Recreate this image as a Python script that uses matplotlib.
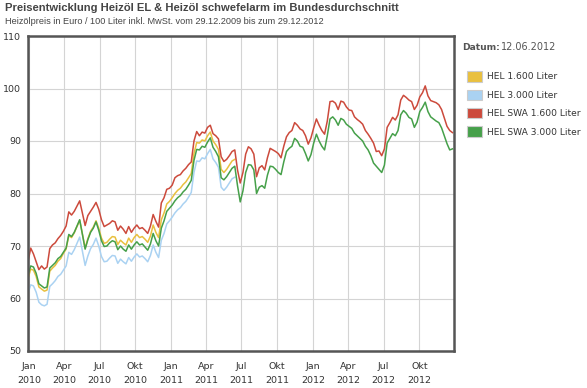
import numpy as np
import pandas as pd
import matplotlib
matplotlib.use("Agg")
import matplotlib.pyplot as plt
import matplotlib.dates as mdates
from matplotlib.patches import Patch

# weekly prices, Euro / 100 Liter
dates = pd.date_range("2009-12-29", "2012-12-29", freq="7D")

hel_swa_1600 = [
    67.0, 69.6, 68.5, 67.0, 65.5, 66.2, 65.6, 66.0, 69.5, 70.2,
    70.6, 71.4, 72.0, 72.8, 73.8, 76.5, 75.9, 76.6, 77.6, 78.6,
    76.2, 73.9, 75.8, 76.6, 77.4, 78.3, 77.0, 75.0, 73.7, 74.0,
    74.3, 74.8, 74.6, 73.0, 73.8, 73.2, 72.4, 73.7, 72.6, 73.4,
    74.0, 73.3, 73.5, 73.0, 72.4, 73.8, 76.0, 74.7, 73.6, 78.2,
    79.2, 80.8, 81.0, 81.6, 83.0, 83.4, 83.6, 84.3, 84.8, 85.5,
    86.0, 90.0, 91.8, 91.0, 91.7, 91.5, 92.6, 93.0, 91.4, 91.0,
    90.4, 87.0, 86.1, 86.5, 87.2, 88.0, 88.3, 84.5, 82.0, 84.0,
    87.5, 88.9, 88.5, 87.5, 83.2, 84.9, 85.3, 84.5, 86.8, 88.6,
    88.3, 88.0, 87.6, 86.8, 89.0, 90.8, 91.6, 92.0, 93.5, 93.0,
    92.3, 92.0, 91.0, 89.4, 90.6, 92.5, 94.2, 93.0, 92.0, 91.3,
    93.8, 97.5, 97.6, 97.2, 96.0, 97.6, 97.4, 96.5, 95.9, 95.8,
    94.6, 94.1, 93.7, 93.2, 92.0, 91.3, 90.5, 89.6, 88.0, 88.1,
    87.2, 88.5, 92.6, 93.5, 94.5, 94.0, 95.0, 97.8, 98.7, 98.3,
    97.8, 97.5, 96.0, 96.8, 98.4, 99.2, 100.5, 98.6, 97.7, 97.5,
    97.3, 96.9, 96.0, 94.4, 92.8, 92.0, 91.6,
]

hel_swa_3000 = [
    64.5, 66.2, 66.0, 64.8, 62.8, 62.4, 62.0, 62.2, 65.8, 66.3,
    66.8, 67.6, 68.0, 68.8, 69.6, 72.2, 71.8, 72.6, 73.8, 75.0,
    72.2, 69.4, 71.2, 72.6, 73.4, 74.6, 73.0, 71.0, 69.9, 70.0,
    70.6, 71.0, 70.8, 69.3, 70.0, 69.4, 69.0, 70.2, 69.4, 70.2,
    70.8, 70.2, 70.4, 69.8, 69.2, 70.4, 72.4, 71.0, 70.0, 73.4,
    74.8, 76.6, 77.2, 77.8, 78.6, 79.2, 79.6, 80.3, 80.8, 81.6,
    82.5, 86.3, 88.4, 88.3, 89.0, 88.8, 89.8, 90.6, 88.8, 88.0,
    87.0, 83.0, 82.6, 83.2, 84.0, 84.8, 85.2, 81.5, 78.4, 80.5,
    84.0, 85.5, 85.4, 84.5, 80.0, 81.2, 81.5, 81.0, 83.5, 85.2,
    85.1, 84.6, 84.0, 83.6, 86.0, 88.0, 88.6, 89.0, 90.5, 90.0,
    89.0, 88.8, 87.6, 86.2, 87.4, 89.6, 91.3, 90.0, 89.0, 88.3,
    91.0, 94.2, 94.6, 94.0, 93.0, 94.3, 94.0, 93.2, 92.8, 92.4,
    91.5, 91.0, 90.5, 90.0, 89.0, 88.3, 87.2, 85.8, 85.2, 84.6,
    84.0, 85.4, 89.6, 90.5, 91.4, 91.0, 92.0, 95.0, 95.8, 95.3,
    94.5, 94.2, 92.6, 93.6, 95.6, 96.4, 97.4, 95.6, 94.6, 94.2,
    93.8, 93.5, 92.5, 91.0, 89.5, 88.3, 88.5,
]

# HEL (EL) series stop in June 2011
hel_1600 = [
    63.8, 65.6, 65.4, 64.2, 62.2, 61.8, 61.4, 61.6, 65.2, 65.8,
    66.3, 67.1, 67.6, 68.6, 69.4, 72.0, 71.6, 72.5, 73.7, 74.9,
    72.3, 69.6, 71.4, 72.8, 73.6, 74.8, 73.4, 71.5, 70.5, 70.7,
    71.3, 71.8, 71.7, 70.3, 71.1, 70.6, 70.2, 71.5, 70.7, 71.6,
    72.2, 71.6, 71.8, 71.3, 70.7, 71.9, 74.0, 72.6, 71.6, 75.0,
    76.3, 78.0, 78.5, 79.2, 80.0, 80.6, 81.0, 81.7, 82.2, 83.0,
    83.8, 87.6, 89.7, 89.6, 90.2, 90.0, 91.0, 91.7, 90.0, 89.3,
    88.4, 84.6, 84.0, 84.6, 85.4, 86.2, 86.5,
]

hel_3000 = [
    61.0, 62.6, 62.4, 61.2, 59.3, 58.8, 58.6, 58.9, 62.3, 62.8,
    63.4, 64.2, 64.6, 65.4, 66.2, 68.8, 68.4, 69.3, 70.5, 71.7,
    69.0, 66.3, 68.1, 69.5, 70.3, 71.5, 70.0, 68.0, 67.0, 67.1,
    67.7, 68.2, 68.1, 66.7, 67.5, 67.0, 66.6, 67.8, 67.1, 67.9,
    68.5, 67.9, 68.1, 67.6, 67.0, 68.2, 70.2, 68.8, 67.8, 71.1,
    72.4, 74.2, 74.8, 75.5, 76.3, 76.9, 77.3, 78.0, 78.5, 79.3,
    80.2, 84.0, 86.2, 86.1, 86.8, 86.6, 87.6, 88.4, 86.6, 85.9,
    85.0, 81.2, 80.6, 81.2, 82.0, 82.8, 83.1,
]

labels = ["HEL 1.600 Liter", "HEL 3.000 Liter", "HEL SWA 1.600 Liter", "HEL SWA 3.000 Liter"]
colors = ["#e9c03f", "#aad2f2", "#cc4a3c", "#46a04a"]
series = [hel_1600, hel_3000, hel_swa_1600, hel_swa_3000]

W, H = 587, 388
fig = plt.figure(figsize=(W / 100, H / 100), dpi=100)
ax = fig.add_axes([28 / W, 1 - 351 / H, (454 - 28) / W, (351 - 36) / H])

for vals, c in zip(series, colors):
    ax.plot(dates[:len(vals)], vals, color=c, linewidth=1.1)

ax.set_xlim(pd.Timestamp("2009-12-29"), pd.Timestamp("2012-12-29"))
ax.set_ylim(50, 110)
ax.set_yticks(range(50, 111, 10))

monate = {1: "Jan", 4: "Apr", 7: "Jul", 10: "Okt"}
ax.xaxis.set_major_locator(mdates.MonthLocator(bymonth=[1, 4, 7, 10]))
ax.xaxis.set_major_formatter(plt.FuncFormatter(
    lambda v, p: "%s\n%d" % (monate[mdates.num2date(v).month], mdates.num2date(v).year)))

ax.grid(True, color="#d4d4d4", linewidth=0.8)
ax.set_axisbelow(True)
for s in ax.spines.values():
    s.set_color("#555555")
    s.set_linewidth(1.8)
ax.tick_params(length=0, labelsize=6.8, colors="#333333")
ax.tick_params(axis="x", pad=8)
ax.tick_params(axis="y", pad=5)
for t in ax.get_xticklabels():
    t.set_linespacing(1.7)

fig.text(5 / W, 1 - 3 / H, "Preisentwicklung Heizöl EL & Heizöl schwefelarm im Bundesdurchschnitt",
         fontsize=8.1, fontweight="bold", color="#444444", va="top", family="Liberation Sans")
fig.text(5 / W, 1 - 17 / H, "Heizölpreis in Euro / 100 Liter inkl. MwSt. vom 29.12.2009 bis zum 29.12.2012",
         fontsize=6.6, color="#444444", va="top", family="Liberation Sans")

fig.text(462 / W, 1 - 47 / H, "Datum:", fontsize=6.6, fontweight="bold", color="#555555", va="center")
fig.text(501 / W, 1 - 47 / H, "12.06.2012", fontsize=7.0, color="#555555", va="center")

handles = [Patch(facecolor=c, edgecolor="#cccccc", linewidth=0.8, label=l) for c, l in zip(colors, labels)]
fig.legend(handles=handles, loc="upper left", bbox_to_anchor=(459 / W, 1 - 63 / H),
           frameon=False, fontsize=6.6, handlelength=1.6, handleheight=1.35,
           handletextpad=0.5, labelspacing=0.88, labelcolor="#333333")

fig.savefig("out.png", dpi=100)
